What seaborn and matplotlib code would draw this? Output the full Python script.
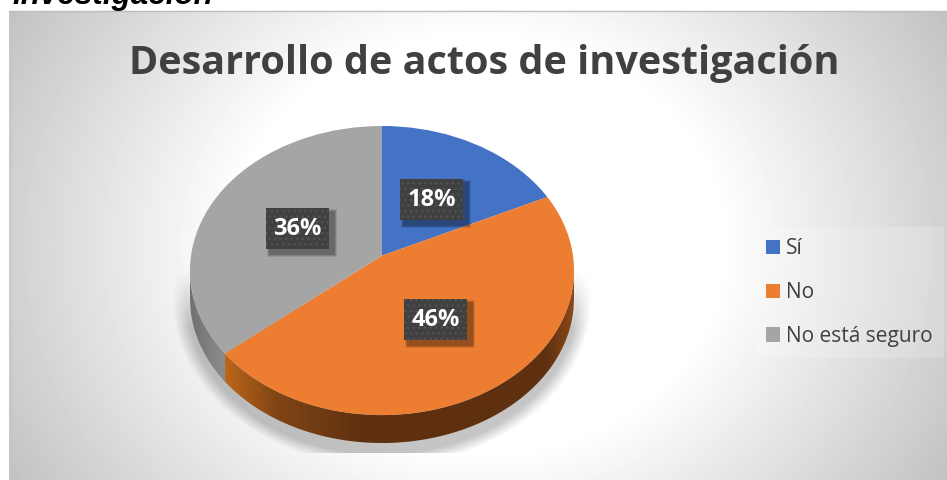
# -*- coding: utf-8 -*-
import numpy as np
import matplotlib.pyplot as plt
import seaborn as sns
from matplotlib.patches import Ellipse, Rectangle, Patch, Polygon

categories = ["Sí", "No", "No está seguro"]
values = [18, 46, 36]
chart_title = "Desarrollo de actos de investigación"
heading_tail = "investigación"

sns.set_theme(style="white")
plt.rcParams["font.family"] = ["Open Sans", "DejaVu Sans"]

W, H = 947, 480
TEXT = "#404040"
palette = sns.color_palette(["#4472C4", "#ED7D31", "#A5A5A5"])

fig = plt.figure(figsize=(W / 100, H / 100), dpi=100, facecolor="white")

# ---- fondo radial y sombra ----
back = fig.add_axes([0, 0, 1, 1], zorder=0)
X, Y = np.meshgrid(np.arange(9, W) + 0.5, np.arange(11, H) + 0.5)
r = np.hypot((X - 478) / 469, (Y - 245) / 400)
bg = 1 - np.clip(r - 0.52, 0, None) * 0.375
back.imshow(bg, cmap="gray", vmin=0, vmax=1, extent=(9, W, H, 11), aspect="auto", zorder=0)

e = np.hypot((X - 382) / 210, (Y - 298) / 168)
alpha = np.clip((1 - e) / 0.07, 0, 1) * np.clip((Y - 270) / 60, 0, 1) * 0.23
alpha[Y > 453] = 0
shadow = np.zeros(alpha.shape + (4,))
shadow[..., 3] = alpha
back.imshow(shadow, extent=(9, W, H, 11), aspect="auto", zorder=1)
back.plot([9, W], [10.5, 10.5], color="#BDBDBD", lw=1, zorder=2)
back.plot([9.5, 9.5], [10.5, H], color="#C4C4C4", lw=1, zorder=2)
back.set_xlim(0, W)
back.set_ylim(H, 0)
back.axis("off")

# ---- pastel: 1 unidad = 192 px en x, 145 px en y ----
PY = 145
depth = 28 / PY
apex = 15 / PY
left, right, top, bottom = 190, 574, 126, 443
pie_ax = fig.add_axes([left / W, 1 - bottom / H, (right - left) / W, (bottom - top) / H], zorder=1)

wedges, _ = pie_ax.pie(values, colors=palette, startangle=90, counterclock=False,
                       radius=3, center=(0, apex), wedgeprops=dict(linewidth=0))
pie_ax.set_aspect("auto")
pie_ax.set_xlim(-1, 1)
pie_ax.set_ylim(-1 - depth, 1)
pie_ax.axis("off")
top_face = Ellipse((0, 0), 2, 2, transform=pie_ax.transData, facecolor="none", edgecolor="none")
pie_ax.add_patch(top_face)
for w in wedges:
    w.set_clip_on(True)
    w.set_clip_path(top_face)
    w.set_zorder(3)

# pared lateral con degradado horizontal
theta = np.radians(90 - 3.6 * (values[0] + values[1]))
dx, dy = np.cos(theta), np.sin(theta)
b = apex * dy
t = -b + np.sqrt(b ** 2 - (apex ** 2 - 1))
rim_x = t * dx

xs = np.linspace(-1, 1, 800)
orange_side = np.array([np.interp(xs, [rim_x, -0.55, -0.1, 0.85, 1], [c0, c1, c2, c2, c3])
                        for c0, c1, c2, c3 in zip((0.74, 0.40, 0.10), (0.50, 0.27, 0.08),
                                                  (0.37, 0.19, 0.06), (0.55, 0.29, 0.09))]).T
gray_side = np.array([np.interp(xs, [-1, rim_x], [0.44, 0.55])] * 3).T
side = np.where((xs < rim_x)[:, None], gray_side, orange_side)[None, :, :]
im = pie_ax.imshow(side, extent=(-1, 1, -1 - depth, 1), aspect="auto", zorder=2)
lower = -np.sqrt(np.clip(1 - xs ** 2, 0, None))
wall = Polygon(np.r_[np.c_[xs, lower], np.c_[xs[::-1], lower[::-1] - depth]],
               transform=pie_ax.transData, facecolor="none", edgecolor="none")
pie_ax.add_patch(wall)
im.set_clip_path(wall)
pie_ax.set_xlim(-1, 1)
pie_ax.set_ylim(-1 - depth, 1)

# ---- textos encima ----
ax = fig.add_axes([0, 0, 1, 1], zorder=2)
ax.set_xlim(0, W)
ax.set_ylim(H, 0)
ax.axis("off")

label_boxes = [(400, 179), (404, 299), (266, 208)]
BOX_W, BOX_H = 63, 41
for (x0, y0), v in zip(label_boxes, values):
    for k, a in zip((7, 5, 3), (0.10, 0.14, 0.18)):
        ax.add_patch(Rectangle((x0 + 4 - k / 2, y0 + 4 - k / 2), BOX_W + k, BOX_H + k,
                               facecolor="black", edgecolor="none", alpha=a, zorder=5))
    ax.add_patch(Rectangle((x0, y0), BOX_W, BOX_H, facecolor="#404040", edgecolor="none", zorder=6))
    ax.add_patch(Rectangle((x0, y0), BOX_W, BOX_H, facecolor="none", edgecolor="#525252",
                           hatch="...", linewidth=0, zorder=6))
    ax.text(x0 + BOX_W / 2, y0 + BOX_H / 2 + 0.5, f"{v}%", color="white", fontsize=17,
            fontweight="bold", ha="center", va="center", zorder=7)

ax.text(484, 63.5, chart_title, color=TEXT, fontsize=28.5, fontweight="bold", ha="center", va="center")
ax.text(12, 4, heading_tail, color="black", fontsize=22.6, fontweight="bold", style="italic",
        family=["Liberation Sans"], ha="left", va="baseline", clip_on=False)

# leyenda
handles = [Patch(facecolor=c, edgecolor="none") for c in palette]
leg = ax.legend(handles, categories, loc="center left", bbox_to_anchor=(754.5 / W, 1 - 292.5 / H),
                bbox_transform=fig.transFigure, frameon=True, facecolor="white", framealpha=0.18,
                edgecolor="none", fancybox=False, fontsize=15, labelcolor=TEXT,
                handlelength=0.68, handleheight=0.68, handletextpad=0.29, labelspacing=1.1,
                borderaxespad=0, borderpad=0.55)

fig.savefig("out.png", dpi=100, facecolor="white")
plt.close(fig)
